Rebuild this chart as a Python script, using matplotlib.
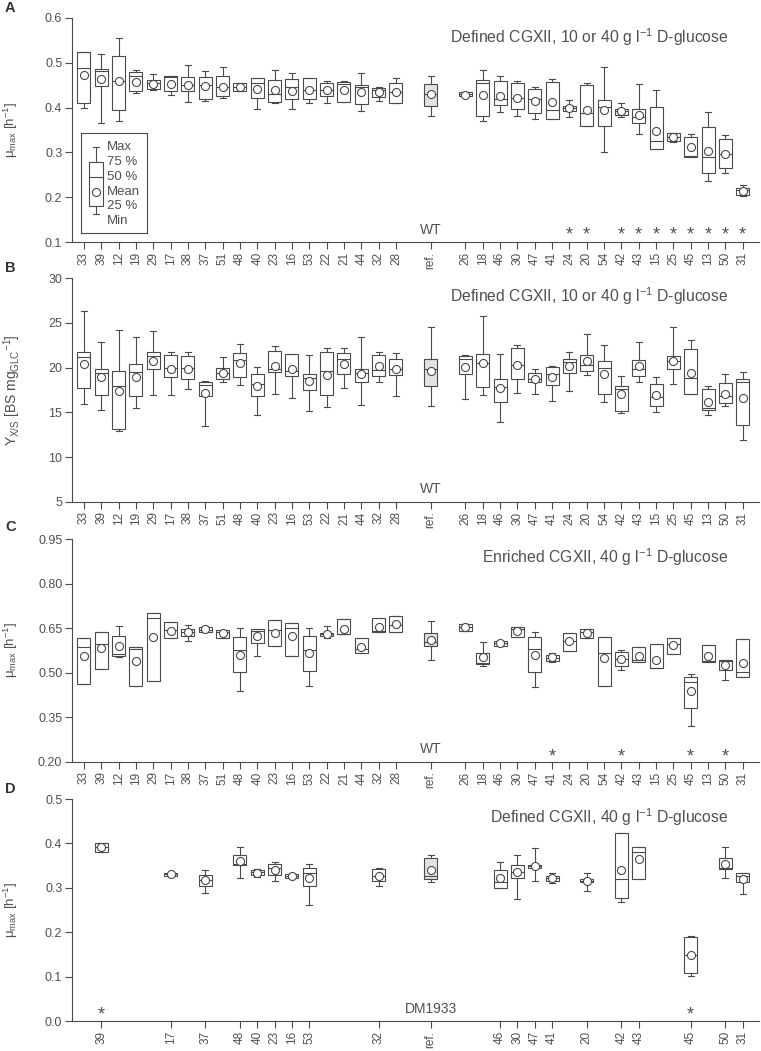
import matplotlib
matplotlib.use('Agg')
import matplotlib.pyplot as plt
import matplotlib.transforms as mtransforms

plt.rcParams['font.family'] = ['Liberation Sans', 'DejaVu Sans']
plt.rcParams['mathtext.fontset'] = 'custom'
plt.rcParams['mathtext.rm'] = 'Liberation Sans'
plt.rcParams['mathtext.it'] = 'Liberation Sans:italic'
plt.rcParams['mathtext.bf'] = 'Liberation Sans:bold'

# ---------------- data ----------------
labels_all = ['33', '39', '12', '19', '29', '17', '38', '37', '51', '48', '40', '23', '16',
              '53', '22', '21', '44', '32', '28', 'ref.', '26', '18', '46', '30', '47', '41',
              '24', '20', '54', '42', '43', '15', '25', '45', '13', '50', '31']
positions_all = list(range(19)) + [20] + list(range(22, 39))

# panel A: mu_max, defined CGXII
a_min = [.400, .365, .370, .433, .440, .429, .412, .415, .421, .437, .397, .411, .396, .410, .410, .412, .393, .415, .411,
         .382, .425, .370, .391, .382, .375, .375, .380, .359, .301, .378, .340, .307, .323, .290, .237, .253, .202]
a_q1 = [.411, .448, .394, .437, .442, .437, .437, .419, .425, .438, .421, .413, .419, .419, .426, .412, .409, .424, .411,
        .404, .425, .381, .405, .396, .389, .375, .393, .359, .360, .384, .365, .307, .325, .290, .253, .266, .204]
a_med = [.489, .482, .460, .470, .455, .468, .450, .451, .445, .445, .455, .430, .445, .440, .440, .452, .446, .440, .434,
         .430, .430, .456, .419, .422, .419, .395, .399, .387, .402, .393, .378, .325, .335, .293, .290, .296, .216]
a_q3 = [.523, .487, .516, .479, .461, .470, .468, .468, .471, .455, .467, .462, .463, .466, .456, .458, .451, .443, .454,
        .452, .434, .462, .460, .456, .441, .458, .404, .450, .416, .397, .397, .401, .344, .335, .357, .331, .221]
a_max = [.523, .519, .555, .484, .475, .470, .494, .481, .491, .455, .467, .485, .477, .466, .460, .460, .478, .446, .467,
         .470, .434, .483, .470, .460, .447, .464, .416, .454, .490, .410, .453, .439, .344, .340, .391, .339, .228]
a_mean = [.473, .463, .459, .457, .453, .453, .450, .449, .446, .445, .442, .440, .438, .440, .440, .440, .435, .435, .435,
          .431, .429, .429, .425, .422, .415, .413, .399, .395, .395, .392, .383, .348, .335, .313, .304, .296, .214]
a_stars = ['24', '20', '42', '43', '15', '25', '45', '13', '50', '31']

# panel B: biomass yield
b_min = [15.9, 15.3, 12.9, 15.5, 16.9, 16.9, 17.6, 13.5, 18.4, 18.1, 14.7, 17.1, 16.6, 15.1, 15.6, 17.7, 15.8, 18.4, 16.8,
         15.7, 16.5, 16.9, 13.9, 17.2, 17.1, 16.3, 17.4, 19.2, 16.2, 14.9, 18.4, 15.0, 18.2, 17.1, 14.7, 15.7, 11.9]
b_q1 = [17.7, 16.9, 13.1, 16.8, 19.9, 19.0, 18.7, 16.8, 18.7, 19.0, 16.8, 19.5, 19.1, 17.5, 16.9, 19.3, 18.4, 19.1, 19.2,
        18.0, 19.3, 17.8, 16.2, 18.7, 18.4, 18.1, 19.4, 19.6, 17.1, 15.2, 19.1, 15.7, 19.9, 17.1, 15.3, 16.0, 13.6]
b_med = [21.2, 19.4, 18.0, 19.5, 21.3, 20.0, 20.0, 18.1, 19.4, 20.9, 18.2, 19.8, 19.6, 18.8, 19.6, 21.0, 19.4, 19.7, 19.9,
         19.8, 21.0, 20.5, 17.8, 20.3, 18.7, 19.3, 20.6, 20.3, 20.0, 17.6, 19.8, 16.7, 20.7, 18.8, 15.5, 16.8, 18.4]
b_q3 = [21.7, 19.9, 19.6, 20.4, 21.7, 21.4, 21.3, 18.4, 20.0, 21.6, 19.3, 21.9, 21.5, 19.3, 21.7, 21.6, 19.9, 21.4, 21.0,
        21.0, 21.3, 21.5, 18.7, 22.2, 19.4, 20.1, 21.0, 21.4, 20.7, 17.9, 20.9, 18.2, 21.3, 22.1, 17.6, 18.3, 18.7]
b_max = [26.3, 22.9, 24.2, 23.4, 24.1, 21.8, 21.7, 18.5, 21.2, 22.6, 20.1, 22.4, 21.5, 21.4, 22.2, 22.2, 23.4, 21.8, 21.6,
         24.5, 21.4, 25.8, 21.5, 22.5, 19.9, 20.2, 21.7, 23.8, 22.5, 19.1, 22.9, 19.0, 24.6, 23.1, 17.9, 19.3, 19.5]
b_mean = [20.4, 18.9, 17.4, 18.9, 20.8, 19.9, 19.9, 17.2, 19.4, 20.5, 17.9, 20.2, 19.8, 18.5, 19.2, 20.4, 19.3, 20.2, 19.9,
          19.6, 20.1, 20.5, 17.7, 20.3, 18.7, 18.9, 20.2, 20.7, 19.3, 17.1, 20.2, 16.9, 20.8, 19.4, 16.2, 17.1, 16.6]

# panel C: mu_max, enriched CGXII
c_min = [.463, .512, .553, .455, .473, .618, .608, .636, .615, .439, .556, .589, .555, .455, .615, .629, .565, .638, .638,
         .542, .640, .523, .590, .621, .450, .535, .573, .618, .455, .509, .537, .514, .563, .320, .537, .475, .486]
c_q1 = [.463, .512, .557, .455, .473, .618, .623, .636, .615, .501, .599, .589, .555, .505, .625, .629, .565, .638, .638,
        .591, .640, .528, .590, .621, .501, .539, .573, .618, .455, .523, .537, .514, .563, .382, .537, .509, .486]
c_med = [.587, .598, .562, .579, .685, .642, .636, .645, .638, .575, .640, .642, .649, .576, .630, .631, .578, .640, .660,
         .604, .652, .533, .599, .647, .580, .550, .606, .638, .567, .546, .542, .517, .596, .467, .540, .538, .503]
c_q3 = [.618, .636, .623, .587, .702, .669, .646, .652, .645, .620, .646, .676, .666, .624, .634, .680, .618, .685, .689,
        .633, .665, .567, .608, .655, .621, .560, .632, .646, .621, .568, .587, .596, .618, .486, .593, .542, .612]
c_max = [.618, .636, .656, .587, .702, .669, .662, .652, .645, .651, .646, .676, .666, .651, .658, .680, .618, .685, .689,
         .674, .665, .602, .608, .655, .636, .565, .632, .646, .621, .576, .587, .596, .618, .495, .593, .542, .612]
c_mean = [.556, .582, .590, .540, .621, .641, .636, .646, .632, .561, .623, .634, .623, .565, .630, .647, .586, .655, .663,
          .610, .652, .551, .599, .641, .561, .551, .606, .634, .548, .545, .556, .542, .593, .438, .556, .526, .533]
c_stars = ['41', '42', '45', '50']

# panel D: mu_max, DM1933 background
d_labels = ['39', '17', '37', '48', '40', '23', '16', '53', '32', 'ref.', '46', '30', '47', '41', '20', '42', '43',
            '45', '50', '31']
d_min = [.381, .326, .288, .321, .324, .315, .323, .261, .304, .312, .300, .274, .316, .310, .293, .267, .319, .102, .321, .285]
d_q1 = [.381, .327, .304, .351, .329, .329, .323, .303, .315, .319, .300, .321, .345, .315, .312, .278, .319, .107, .342, .312]
d_med = [.391, .331, .318, .353, .335, .345, .327, .333, .327, .327, .312, .335, .349, .321, .316, .320, .381, .149, .344, .326]
d_q3 = [.400, .334, .329, .375, .340, .354, .330, .344, .342, .366, .340, .351, .352, .327, .319, .424, .391, .190, .366, .333]
d_max = [.400, .335, .340, .393, .342, .357, .330, .353, .345, .375, .357, .375, .389, .333, .333, .424, .391, .191, .391, .334]
d_mean = [.391, .331, .318, .360, .334, .340, .326, .323, .327, .339, .321, .335, .349, .321, .316, .339, .364, .149, .353, .319]
d_stars = ['39', '45']

# ---------------- style ----------------
LC = '#4a4a4a'
TC = '#505050'
POS = dict(zip(labels_all, positions_all))

W, H = 761, 1051
fig = plt.figure(figsize=(W / 100, H / 100), dpi=100)


def px_axes(top, bottom, left=72, right=759):
    return fig.add_axes([left / W, 1 - bottom / H, (right - left) / W, (bottom - top) / H])


def panel(ax, labels, mn, q1, md, q3, mx, mean, ylim, yticks, yfmt, ylabel, title, ty, bottom_text, stars, star_y):
    pos = [POS[l] for l in labels]
    stats = [dict(whislo=a, q1=b, med=c, q3=d, whishi=e, mean=f, label=l)
             for a, b, c, d, e, f, l in zip(mn, q1, md, q3, mx, mean, labels)]
    res = ax.bxp(stats, positions=pos, widths=0.75, capwidths=0.35, showmeans=True, showfliers=False,
                 patch_artist=True,
                 boxprops=dict(facecolor='white', edgecolor=LC, linewidth=0.8),
                 whiskerprops=dict(color=LC, linewidth=0.8),
                 capprops=dict(color=LC, linewidth=0.8),
                 medianprops=dict(color=LC, linewidth=0.8),
                 meanprops=dict(marker='o', markerfacecolor='white', markeredgecolor=LC,
                                markersize=5.8, markeredgewidth=0.8))
    res['boxes'][labels.index('ref.')].set_facecolor('#e2e2e2')
    ax.set_xlim(-0.69, 38.94)
    ax.set_ylim(*ylim)
    ax.set_yticks(yticks)
    ax.set_yticklabels([yfmt % v for v in yticks], fontsize=9, color=TC)
    ax.set_xticks(pos)
    ax.set_xticklabels(labels, rotation=90, fontsize=8.5, color=TC)
    for s in ['top', 'right']:
        ax.spines[s].set_visible(False)
    for s in ['left', 'bottom']:
        ax.spines[s].set_color(LC)
        ax.spines[s].set_linewidth(0.8)
    ax.tick_params(direction='out', length=5, width=0.8, color=LC, pad=2)
    ax.set_ylabel(ylabel, fontsize=9.5, color=TC)
    ax.yaxis.set_label_coords(-0.076, 0.5)
    ax.text(0.955, ty, title, transform=ax.transAxes, ha='right', va='center', fontsize=11.3, color=TC)
    tr = mtransforms.blended_transform_factory(ax.transData, ax.transAxes)
    ax.text(POS['ref.'], 0.055, bottom_text, transform=tr, ha='center', va='center', fontsize=10, color=TC)
    for s in stars:
        ax.text(POS[s], star_y, '*', transform=tr, ha='center', va='bottom', fontsize=13, color=TC)


mu_label = r'μ$_{\mathrm{max}}$ [h$^{\mathrm{-1}}$]'

axA = px_axes(18, 242)
panel(axA, labels_all, a_min, a_q1, a_med, a_q3, a_max, a_mean, (0.1, 0.6), [0.1, 0.2, 0.3, 0.4, 0.5, 0.6], '%.1f',
      mu_label, r'Defined CGXII, 10 or 40 g l$^{\mathrm{-1}}$ D-glucose', 0.915, 'WT', a_stars, -0.007)

axB = px_axes(278.3, 501.7)
panel(axB, labels_all, b_min, b_q1, b_med, b_q3, b_max, b_mean, (5, 30), [5, 10, 15, 20, 25, 30], '%d',
      r'Y$_{\mathrm{X/S}}$ [BS mg$_{\mathrm{GLC}}$$^{\mathrm{-1}}$]',
      r'Defined CGXII, 10 or 40 g l$^{\mathrm{-1}}$ D-glucose', 0.918, 'WT', [], 0)
axB.yaxis.label.set_fontsize(10)
axB.yaxis.set_label_coords(-0.072, 0.5)

axC = px_axes(539, 761.7)
panel(axC, labels_all, c_min, c_q1, c_med, c_q3, c_max, c_mean, (0.2, 0.95), [0.2, 0.35, 0.5, 0.65, 0.8, 0.95],
      '%.2f', mu_label, r'Enriched CGXII, 40 g l$^{\mathrm{-1}}$ D-glucose', 0.92, 'WT', c_stars, -0.016)

axD = px_axes(799, 1021)
panel(axD, d_labels, d_min, d_q1, d_med, d_q3, d_max, d_mean, (0.0, 0.5), [0.0, 0.1, 0.2, 0.3, 0.4, 0.5], '%.1f',
      mu_label, r'Defined CGXII, 40 g l$^{\mathrm{-1}}$ D-glucose', 0.92, 'DM1933', d_stars, -0.012)

# panel letters
for letter, y in [('A', 8), ('B', 268), ('C', 527), ('D', 789)]:
    fig.text(5 / W, 1 - y / H, letter, fontsize=10.5, fontweight='bold', color='#333333', va='center', ha='left')

# box legend in panel A
lg = fig.add_axes([81 / W, 1 - 233 / H, 66 / W, 100 / H])
lg.bxp([dict(whislo=0.19, q1=0.27, med=0.56, q3=0.71, whishi=0.86, mean=0.41)], positions=[0.23], widths=0.21,
       capwidths=0.1, showmeans=True, showfliers=False,
       boxprops=dict(color=LC, linewidth=0.8), whiskerprops=dict(color=LC, linewidth=0.8),
       capprops=dict(color=LC, linewidth=0.8), medianprops=dict(color=LC, linewidth=0.8),
       meanprops=dict(marker='o', markerfacecolor='white', markeredgecolor=LC, markersize=5.8, markeredgewidth=0.8))
lg.set_xlim(0, 1)
lg.set_ylim(0, 1)
lg.set_xticks([])
lg.set_yticks([])
for s in lg.spines.values():
    s.set_color(LC)
    s.set_linewidth(0.8)
for txt, y in [('Max', 0.86), ('75 %', 0.71), ('50 %', 0.56), ('Mean', 0.41), ('25 %', 0.27), ('Min', 0.12)]:
    lg.text(0.39, y, txt, fontsize=9.5, color=TC, va='center', ha='left')

fig.savefig('out.png', dpi=100)
